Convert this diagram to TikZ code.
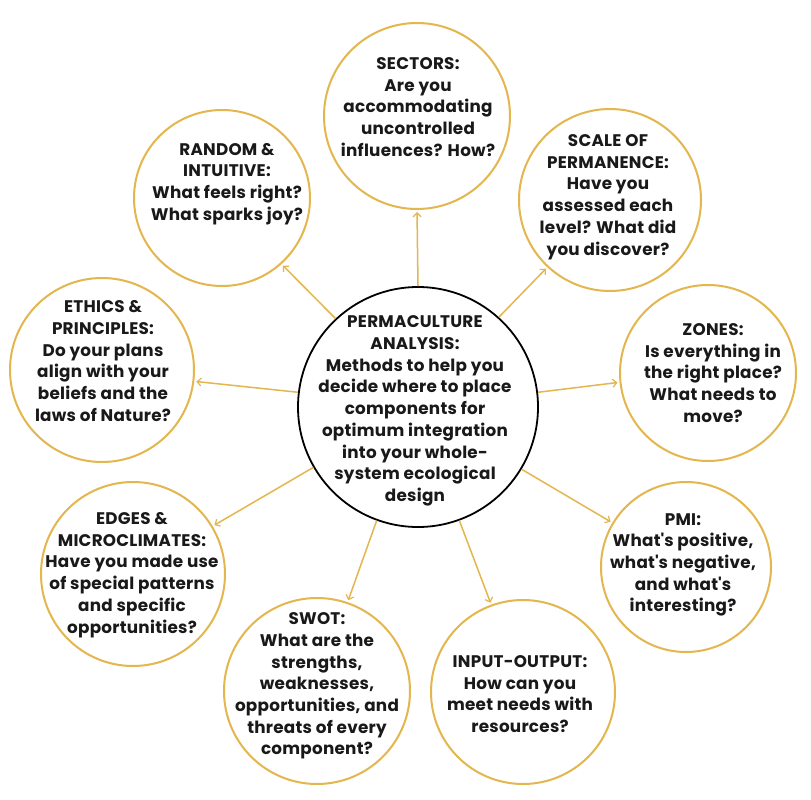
\documentclass[tikz,border=0pt]{standalone}
\usepackage{fontspec}
\setmainfont{Poppins}[LetterSpace=1.5]
\usetikzlibrary{arrows.meta,calc}
\definecolor{gold}{HTML}{E3B64E}
\newcommand{\apo}{\textquotesingle}
\begin{document}
\begin{tikzpicture}[x=1pt,y=-1pt,
  ring/.style={circle,draw=gold,line width=2pt,inner sep=0pt,fill=white},
  hub/.style={circle,draw=black,line width=1.8pt,inner sep=0pt,fill=white},
  txt/.style={align=center,font=\bfseries\fontsize{16.8}{21.7}\selectfont,inner sep=0pt,text=black!90},
  link/.style={draw=gold,line width=1.5pt,-{Straight Barb[length=4pt,width=8pt,line width=1.2pt]},shorten >=2pt}]
\useasboundingbox (0,0) rectangle (811,800);
\fill[white] (0,0) rectangle (811,800);
% circles
\node[hub,minimum size=240pt] (c) at (418,407) {};
\node[ring,minimum size=186pt] (sec) at (417,116) {};
\node[ring,minimum size=176pt] (ran) at (222,198) {};
\node[ring,minimum size=184pt] (eth) at (102,370) {};
\node[ring,minimum size=182pt] (sca) at (610,200) {};
\node[ring,minimum size=176pt] (zon) at (708,373) {};
\node[ring,minimum size=170pt] (pmi) at (686,567) {};
\node[ring,minimum size=184pt] (inp) at (523,692) {};
\node[ring,minimum size=186pt] (swo) at (317,691) {};
\node[ring,minimum size=184pt] (edg) at (133,574) {};
% texts
\node[txt] (tc) at (415,411) {PERMACULTURE\\ANALYSIS:\\Methods to help you\\decide where to place\\components for\\optimum integration\\into your whole-\\system ecological\\design};
\node[txt] (tsec) at (418,107) {SECTORS:\\Are you\\accommodating\\uncontrolled\\influences? How?};
\node[txt] (tran) at (227,184) {RANDOM \&\\INTUITIVE:\\What feels right?\\What sparks joy?};
\node[txt] (teth) at (103,361) {ETHICS \&\\PRINCIPLES:\\Do your plans\\align with your\\beliefs and the\\laws of Nature?};
\node[txt] (tsca) at (608,197) {SCALE OF\\PERMANENCE:\\Have you\\assessed each\\level? What did\\you discover?};
\node[txt] (tzon) at (713,373) {ZONES:\\Is everything in\\the right place?\\What needs to\\move?};
\node[txt] (tpmi) at (683,565) {PMI:\\What\apo s positive,\\what\apo s negative,\\and what\apo s\\interesting?};
\node[txt] (tinp) at (520,694) {INPUT-OUTPUT:\\How can you\\meet needs with\\resources?};
\node[txt] (tswo) at (317,686) {SWOT:\\What are the\\strengths,\\weaknesses,\\opportunities, and\\threats of every\\component?};
\node[txt] (tedg) at (132,575) {EDGES \&\\MICROCLIMATES:\\Have you made use\\of special patterns\\and specific\\opportunities?};
% connectors
\path[link] (c.90) -- (sec.270);
\path[link] (c.133) -- (ran.312);
\path[link] (c.173) -- (eth.353);
\path[link] (c.48) -- (sca.227);
\path[link] (c.7) -- (zon.186);
\path[link] (c.-31) -- (pmi.149);
\path[link] (c.-70) -- (inp.110);
\path[link] (c.-110) -- (swo.71);
\path[link] (c.210) -- (edg.31);
\end{tikzpicture}
\end{document}
